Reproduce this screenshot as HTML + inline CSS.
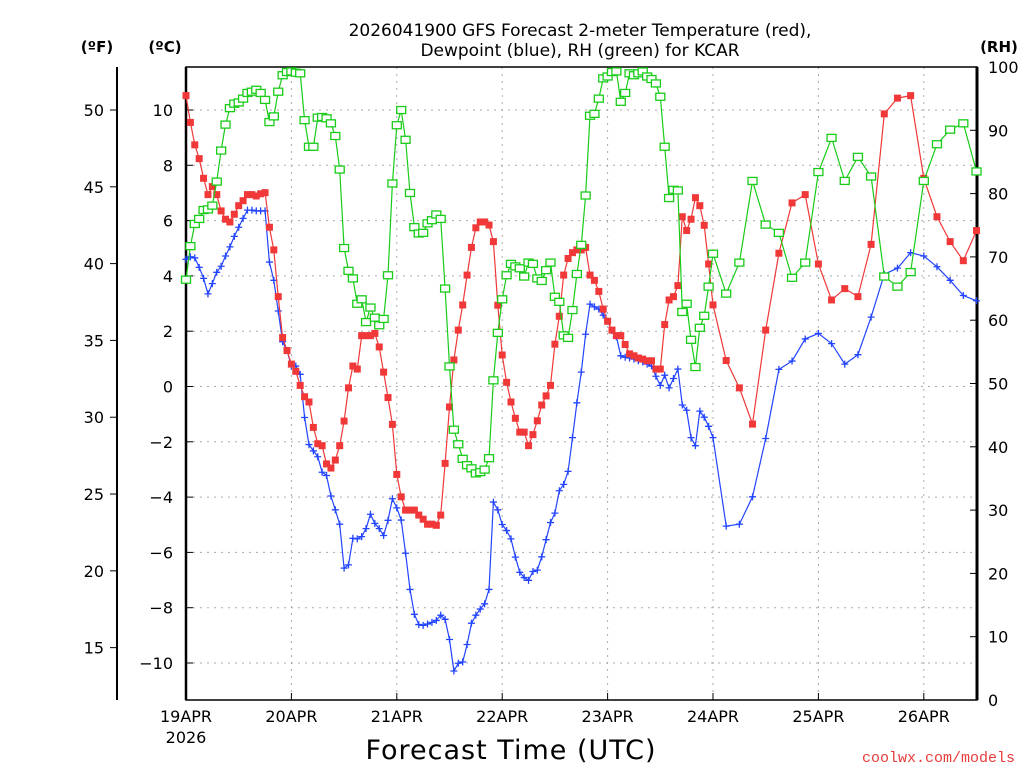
<!DOCTYPE html>
<html><head><meta charset="utf-8"><style>
html,body{margin:0;padding:0;background:#fff;width:1024px;height:768px;overflow:hidden}
svg text{font-family:"DejaVu Sans","Liberation Sans",sans-serif}
</style></head><body>
<svg id="chart" width="1024" height="768" viewBox="0 0 1024 768" xmlns="http://www.w3.org/2000/svg">
<g font-size="17" text-anchor="middle" fill="#000">
<text x="580" y="36">2026041900 GFS Forecast 2-meter Temperature (red),</text>
<text x="580" y="56">Dewpoint (blue), RH (green) for KCAR</text>
</g>
<text x="97" y="52" font-size="15" font-weight="bold" text-anchor="middle">(ºF)</text>
<text x="165" y="52" font-size="15" font-weight="bold" text-anchor="middle">(ºC)</text>
<text x="999" y="52" font-size="15" font-weight="bold" text-anchor="middle">(RH)</text>
<text x="511" y="759" font-size="27" text-anchor="middle" letter-spacing="1">Forecast Time (UTC)</text>
<text x="1015" y="762" font-size="15" text-anchor="end" fill="#e83c3c" font-family="Liberation Mono, monospace" style="font-family:'Liberation Mono',monospace">coolwx.com/models</text>
<g id="grid"></g>
<g id="axes"></g>
<g id="series"></g>
</svg>
<script>
const dayLabels = ["19APR","20APR","21APR","22APR","23APR","24APR","25APR","26APR"];
const celsiusTicks = [-10,-8,-6,-4,-2,0,2,4,6,8,10];
const fahrenheitTicks = [15,20,25,30,35,40,45,50];
const rhTicks = [0,10,20,30,40,50,60,70,80,90,100];
const hoursHourly = [0,1,2,3,4,5,6,7,8,9,10,11,12,13,14,15,16,17,18,19,20,21,22,23,24,25,26,27,28,29,30,31,32,33,34,35,36,37,38,39,40,41,42,43,44,45,46,47,48,49,50,51,52,53,54,55,56,57,58,59,60,61,62,63,64,65,66,67,68,69,70,71,72,73,74,75,76,77,78,79,80,81,82,83,84,85,86,87,88,89,90,91,92,93,94,95,96,97,98,99,100,101,102,103,104,105,106,107,108,109,110,111,112,113,114,115,116,117,118,119,120];
const hours3h = [123,126,129,132,135,138,141,144,147,150,153,156,159,162,165,168,171,174,177,180];
const tempC = [10.52,9.55,8.74,8.24,7.53,6.94,7.23,6.94,6.35,6.05,5.95,6.23,6.54,6.72,6.94,6.94,6.89,6.97,7.01,5.76,4.94,3.25,1.77,1.30,0.81,0.55,0.04,-0.37,-0.56,-1.48,-2.07,-2.14,-2.80,-2.95,-2.66,-2.14,-1.25,-0.05,0.74,0.63,1.84,1.84,1.84,1.92,1.43,0.52,-0.4,-1.37,
-3.18,-3.99,-4.47,-4.47,-4.47,-4.65,-4.80,-4.98,-4.98,-5.02,-4.65,-2.78,-0.74,0.96,2.04,2.95,4.03,5.03,5.74,5.95,5.95,5.84,5.24,2.94,1.14,0.15,-0.56,-1.15,-1.65,-1.65,-2.14,-1.74,-1.24,-0.67,-0.34,0.04,1.53,2.54,4.03,4.63,4.84,4.94,4.94,5.03,4.03,3.84,3.44,2.80,2.36,
2.04,1.84,1.84,1.52,1.18,1.11,1.03,0.99,0.93,0.93,0.63,0.63,2.24,3.13,3.25,3.65,6.14,5.64,6.05,6.83,6.54,5.83,4.43,2.95,
0.94,-0.05,-1.36,2.04,4.82,6.64,6.94,4.43,3.13,3.54,3.25,5.14,9.86,10.43,10.52,7.53,6.14,5.24,4.55,5.64];
const dewpointC = [4.60,4.69,4.65,4.31,3.91,3.35,3.72,4.13,4.35,4.72,5.05,5.43,5.76,6.08,6.38,6.38,6.35,6.35,6.35,4.50,3.84,2.73,1.62,1.30,0.74,0.74,0.44,-1.12,-2.10,-2.33,-2.54,-3.10,-3.22,-3.96,-4.46,-4.98,-6.57,-6.45,-5.49,-5.51,-5.43,-5.14,-4.62,-4.95,-5.14,-5.39,-4.84,-4.06,
-4.39,-4.83,-6.03,-7.34,-8.24,-8.61,-8.64,-8.59,-8.53,-8.46,-8.27,-8.42,-9.15,-10.29,-10.01,-9.96,-9.33,-8.56,-8.27,-8.05,-7.86,-7.34,-4.18,-4.46,-4.99,-5.21,-5.51,-6.17,-6.72,-6.91,-7.01,-6.69,-6.64,-6.16,-5.54,-4.92,-4.58,-3.77,-3.54,-3.07,-1.85,-0.59,0.52,1.89,2.98,2.88,2.80,2.58,2.36,
2.02,1.80,1.11,1.06,1.03,0.99,0.93,0.89,0.81,0.74,0.37,0.04,0.41,-0.05,0.29,0.63,-0.67,-0.86,-1.85,-2.14,-0.89,-1.11,-1.44,-1.85,
-5.05,-4.98,-3.99,-1.88,0.62,0.92,1.72,1.92,1.55,0.81,1.15,2.51,4.06,4.28,4.84,4.72,4.33,3.84,3.29,3.10];
const rhPct = [66.4,71.7,75.2,76.0,77.4,77.5,78.1,81.9,86.8,90.9,93.5,94.2,94.4,95.0,95.9,96.1,96.4,95.9,94.8,91.3,92.2,96.1,98.7,99.2,99.3,99.1,99.0,91.6,87.4,87.4,92.0,92.1,91.9,91.1,89.1,83.8,71.4,67.8,66.6,62.6,63.3,59.7,62.0,60.4,59.2,60.2,67.1,81.6,
90.8,93.2,88.5,80.1,74.7,73.7,73.8,75.3,75.8,76.7,76.0,65.0,52.7,42.7,40.4,38.1,37.1,36.6,35.8,36.0,36.4,38.2,50.5,58.0,63.3,67.1,68.9,68.5,68.2,66.9,69.1,68.9,66.6,66.2,67.9,69.1,63.7,62.9,57.6,57.2,61.6,67.3,71.9,79.7,92.3,92.6,95.0,98.2,98.5,
99.2,99.3,94.5,95.9,99.0,98.7,99.0,99.3,98.5,98.1,97.4,95.3,87.4,79.3,80.6,80.5,61.3,62.6,56.9,52.6,58.8,60.7,65.3,70.5,
64.2,69.1,82.0,75.1,73.8,66.7,69.1,83.4,88.8,82.0,85.8,82.7,66.9,65.3,67.6,82.0,87.8,90.1,91.1,83.5];

const NS = "http://www.w3.org/2000/svg";
const L = 186, R = 977, T = 67, B = 700;
const hours = hoursHourly.concat(hours3h);
function xH(h){ return L + h * (105.4/24); }
function yC(c){ return 386.5 - c * 27.65; }
function yF(f){ return yC((f - 32) * 5 / 9); }
function yRH(r){ return B - r * (B - T) / 100; }
function mk(tag, attrs, parent){ const e = document.createElementNS(NS, tag); for (const k in attrs) e.setAttribute(k, attrs[k]); parent.appendChild(e); return e; }

const grid = document.getElementById('grid');
const axes = document.getElementById('axes');
const series = document.getElementById('series');

celsiusTicks.forEach(c => {
  const y = yC(c);
  const g = mk('line', {x1:L, x2:R, y1:y, y2:y, stroke:'#aaa', 'stroke-dasharray':'2,5'}, grid);
  
  
  mk('line', {x1:L, x2:L+7, y1:y, y2:y, stroke:'#000'}, axes);
  const t = mk('text', {x:173, y:y+6, 'font-size':16, 'text-anchor':'end'}, axes);
  t.textContent = (c < 0 ? '\u2212' + Math.abs(c) : String(c));
  
  
});
fahrenheitTicks.forEach(f => {
  const y = yF(f);
  mk('line', {x1:110, x2:117, y1:y, y2:y, stroke:'#000'}, axes);
  const t = mk('text', {x:104, y:y+6, 'font-size':16, 'text-anchor':'end'}, axes);
  t.textContent = String(f);
  
  
});
rhTicks.forEach(r => {
  const y = yRH(r);
  mk('line', {x1:R-7, x2:R, y1:y, y2:y, stroke:'#000'}, axes);
  const t = mk('text', {x:988, y:y+6, 'font-size':16, 'text-anchor':'start'}, axes);
  t.textContent = String(r);
  
  
});
dayLabels.forEach((d, i) => {
  const x = xH(i * 24);
  if (i > 0) {
    const g = mk('line', {x1:x, x2:x, y1:T, y2:B, stroke:'#aaa', 'stroke-dasharray':'2,5'}, grid);
    
    
  }
  mk('line', {x1:x, x2:x, y1:B, y2:B-7, stroke:'#000'}, axes);
  const t = mk('text', {x:x, y:722, 'font-size':16, 'text-anchor':'middle'}, axes);
  t.textContent = d;
  
  
});
const yr = mk('text', {x:L, y:743, 'font-size':16, 'text-anchor':'middle'}, axes);
yr.textContent = '2026';


const frame = mk('rect', {x:L, y:T, width:R-L, height:B-T, fill:'none', stroke:'#000', 'stroke-width':1.5}, axes);


mk('line', {x1:R, x2:R, y1:T, y2:B, stroke:'#000', 'stroke-width':3}, axes);
mk('line', {x1:L, x2:L, y1:T, y2:B, stroke:'#000', 'stroke-width':2.5}, axes);
const fAxis = mk('line', {x1:117, x2:117, y1:T, y2:B, stroke:'#000', 'stroke-width':2}, axes);



function drawSeries(vals, yfn, color, name, marker){
  const g = mk('g', {}, series);
  
  
  const pts = vals.map((v, i) => xH(hours[i]).toFixed(1) + ',' + yfn(v).toFixed(1)).join(' ');
  const pl = mk('polyline', {points:pts, fill:'none', stroke:color, 'stroke-width':1.2}, g);
  
  
  vals.forEach((v, i) => {
    const x = xH(hours[i]), y = yfn(v);
    let m;
    if (marker === 'fsq') m = mk('rect', {x:x-3.5, y:y-3.5, width:7, height:7, fill:color}, g);
    else if (marker === 'osq') m = mk('rect', {x:x-4.5, y:y-3.5, width:9, height:7, fill:'#fff', stroke:color, 'stroke-width':1.3}, g);
    else m = mk('path', {d:`M${x-3.5},${y}h7M${x},${y-3.5}v7`, stroke:color, 'stroke-width':1.3}, g);
    
    
  });
}
drawSeries(dewpointC, yC, '#2244ff', 'dewpoint-series', 'plus');
drawSeries(tempC, yC, '#f03838', 'temperature-series', 'fsq');
drawSeries(rhPct, yRH, '#18cc18', 'rh-series', 'osq');
</script>
</body></html>
